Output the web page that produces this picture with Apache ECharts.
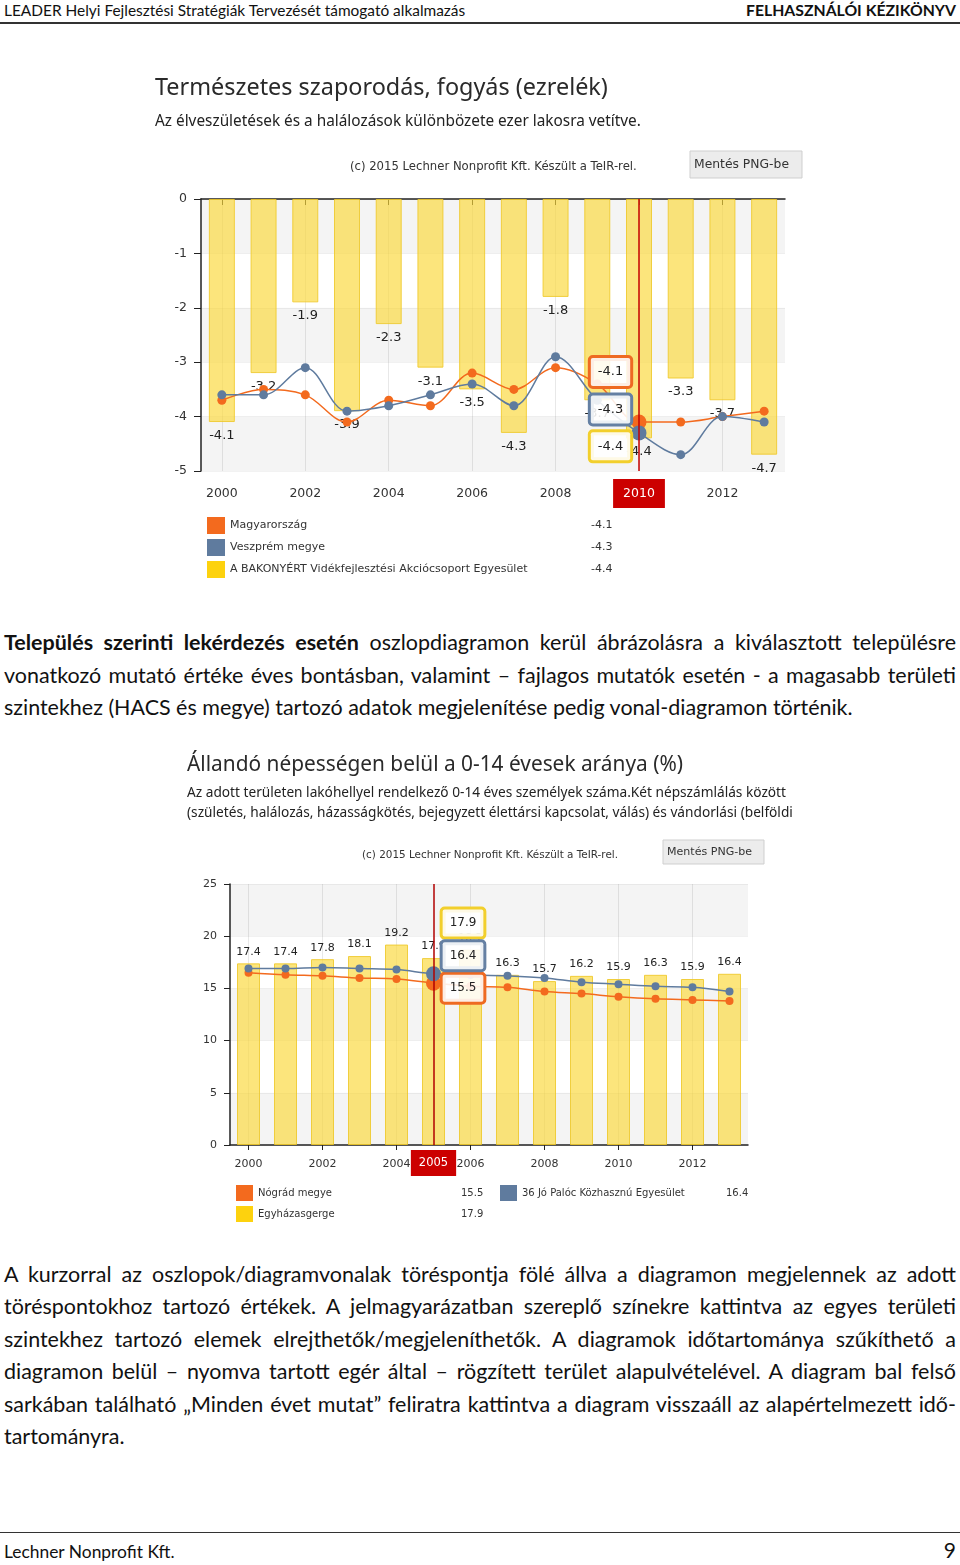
<!DOCTYPE html>
<html><head><meta charset="utf-8">
<script src="https://cdn.jsdelivr.net/npm/echarts@6/dist/echarts.min.js"></script>
<style>
html,body{margin:0;padding:0;background:#fff;}
body{width:960px;height:1565px;position:relative;overflow:hidden;font-family:Lato,"Open Sans",sans-serif;color:#111;}
.t{position:absolute;white-space:nowrap;line-height:30px;height:30px;}
.j{left:4px;width:952px;text-align:justify;text-align-last:justify;}
.l{left:4px;}
</style></head><body>
<div class="t fit" id="hdrL" data-w="462" style="left:4px;top:-5px;">LEADER Helyi Fejlesztési Stratégiák Tervezését támogató alkalmazás</div>
<div class="t fit" id="hdrR" data-w="210" style="right:4px;top:-5px;font-weight:bold;">FELHASZNÁLÓI KÉZIKÖNYV</div>
<div style="position:absolute;left:0;top:22px;width:960px;height:2px;background:#333"></div>

<div id="c1" style="position:absolute;left:140px;top:60px;width:680px;height:540px"></div>

<div class="t j body" style="top:627px;"><b>Település szerinti lekérdezés esetén</b> oszlopdiagramon kerül ábrázolásra a kiválasztott településre</div>
<div class="t j body" style="top:660px;">vonatkozó mutató értéke éves bontásban, valamint – fajlagos mutatók esetén - a magasabb területi</div>
<div class="t l body" id="ref1" style="top:692px;">szintekhez (HACS és megye) tartozó adatok megjelenítése pedig vonal-diagramon történik.</div>

<div id="c2" style="position:absolute;left:175px;top:740px;width:620px;height:500px"></div>

<div class="t j body" style="top:1259px;">A kurzorral az oszlopok/diagramvonalak töréspontja fölé állva a diagramon megjelennek az adott</div>
<div class="t j body" style="top:1291px;">töréspontokhoz tartozó értékek. A jelmagyarázatban szereplő színekre kattintva az egyes területi</div>
<div class="t j body" style="top:1324px;">szintekhez tartozó elemek elrejthetők/megjeleníthetők. A diagramok időtartománya szűkíthető a</div>
<div class="t j body" style="top:1356px;">diagramon belül – nyomva tartott egér által – rögzített terület alapulvételével. A diagram bal felső</div>
<div class="t j body" style="top:1389px;">sarkában található „Minden évet mutat” feliratra kattintva a diagram visszaáll az alapértelmezett idő-</div>
<div class="t l body" style="top:1421px;">tartományra.</div>

<div style="position:absolute;left:0;top:1532px;width:960px;height:1px;background:#333"></div>
<div class="t fit" data-w="171" style="left:4px;top:1537px;">Lechner Nonprofit Kft.</div>
<div class="t" style="right:4px;top:1535px;font-size:21px;">9</div>

<script>
// ---------- data ----------
const years = ['2000','2001','2002','2003','2004','2005','2006','2007','2008','2009','2010','2011','2012','2013'];

// Chart 1: Természetes szaporodás, fogyás (ezrelék)
const c1Names = ['Magyarország','Veszprém megye','A BAKONYÉRT Vidékfejlesztési Akciócsoport Egyesület'];
const c1Hungary  = [-3.7,-3.5,-3.6,-4.1,-3.7,-3.8,-3.2,-3.5,-3.1,-3.4,-4.1,-4.1,-4.0,-3.9];
const c1Veszprem = [-3.6,-3.6,-3.1,-3.9,-3.8,-3.6,-3.4,-3.8,-2.9,-3.7,-4.3,-4.7,-4.0,-4.1];
const c1Bakony   = [-4.1,-3.2,-1.9,-3.9,-2.3,-3.1,-3.5,-4.3,-1.8,-3.7,-4.4,-3.3,-3.7,-4.7];
const c1Year = '2010';

// Chart 2: Állandó népességen belül a 0-14 évesek aránya (%)
const c2Names = ['Nógrád megye','36 Jó Palóc Közhasznú Egyesület','Egyházasgerge'];
const c2Nograd = [16.5,16.3,16.2,16.0,15.9,15.5,15.2,15.1,14.7,14.5,14.2,14.0,13.9,13.8];
const c2Paloc  = [16.9,16.9,17.0,16.9,16.8,16.4,16.3,16.2,16.0,15.6,15.4,15.2,15.1,14.7];
const c2Egyhaz = [17.4,17.4,17.8,18.1,19.2,17.9,18.7,16.3,15.7,16.2,15.9,16.3,15.9,16.4];
const c2Year = '2005';

// ---------- helpers ----------
const mctx = document.createElement('canvas').getContext('2d');
function fitSize(text, family, target, weight){
  mctx.font = (weight||'normal') + ' 100px ' + family;
  return 100 * target / mctx.measureText(text).width;
}
// HTML text sizing
const bodyFam = 'Lato';
const ref1 = document.getElementById('ref1');
const bodySize = fitSize(ref1.textContent, bodyFam, 849);
document.querySelectorAll('.body').forEach(e => e.style.fontSize = bodySize.toFixed(2) + 'px');
document.querySelectorAll('.fit').forEach(e => {
  const w = +e.dataset.w;
  const bold = getComputedStyle(e).fontWeight >= 600 ? 'bold' : 'normal';
  e.style.fontSize = fitSize(e.textContent, bodyFam, w, bold).toFixed(2) + 'px';
});

const ORANGE = '#f36a1e', BLUE = '#5f7b9e', YELLOW = '#fdd20e';
const BARFILL = 'rgba(250,216,62,0.68)', BARLINE = 'rgba(238,200,40,0.85)';
const AXIS = '#222', LBL = '#333';
const TFONT = '"Noto Sans"';
const SFONT = '"DejaVu Sans"';

function pts(vals, hi, size, bigSize){
  return vals.map((v, i) => i === hi ? {value: v, symbolSize: bigSize} : v);
}
function tipPoint(cat, val, color, offset, fs){
  return {
    symbol: 'circle', symbolSize: 1, silent: true,
    itemStyle: {color: 'rgba(0,0,0,0)'},
    label: {show: true, position: 'inside', offset: offset, formatter: String(val),
      color: '#222', fontSize: fs, fontFamily: SFONT,
      backgroundColor: 'rgba(255,255,255,0.88)', borderColor: color, borderWidth: 3,
      borderRadius: 2, padding: [8, 7, 7, 7]},
    data: [{coord: [cat, val]}]
  };
}
function legendFmt(names, vals){
  const m = {};
  names.forEach((n, i) => m[n] = vals[i]);
  return n => '{n|' + n + '}{v|' + m[n] + '}';
}

// ---------- chart 1 ----------
const hi1 = years.indexOf(c1Year);
const c1 = echarts.init(document.getElementById('c1'), null, {renderer: 'canvas'});
const g1 = {left: 61, top: 139, width: 584, height: 272};
c1.setOption({
  animation: false,
  textStyle: {fontFamily: SFONT},
  grid: g1,
  axisPointer: {triggerOn: 'none'},
  xAxis: [{
    type: 'category', data: years, boundaryGap: true, gridIndex: 0,
    axisLine: {lineStyle: {color: AXIS, width: 1.5}},
    axisTick: {show: true, interval: 1, alignWithLabel: true, length: 6, lineStyle: {color: AXIS}},
    axisLabel: {interval: 1, color: LBL, fontSize: 12.5, margin: 16, fontFamily: SFONT},
    splitLine: {show: false},
    axisPointer: {show: true, type: 'line', value: hi1, status: 'show', snap: true,
      lineStyle: {color: '#c40000', width: 1.5, type: 'solid'},
      label: {show: true, backgroundColor: '#cc0000', color: '#fff', fontSize: 12.5, fontFamily: SFONT,
        padding: [8, 10, 8, 10], margin: 8, borderRadius: 0, shadowBlur: 0, borderWidth: 0}}
  }, {
    type: 'category', data: years, boundaryGap: true, gridIndex: 0, position: 'bottom',
    axisLine: {show: false}, axisLabel: {show: false}, splitLine: {show: false},
    axisTick: {show: true, inside: true, interval: 1, alignWithLabel: true, length: g1.height,
      lineStyle: {color: 'rgba(0,0,0,0.09)'}}
  }],
  yAxis: {
    type: 'value', min: -5, max: 0, interval: 1,
    axisLine: {show: true, lineStyle: {color: AXIS, width: 1.5}},
    axisTick: {show: true, length: 7, lineStyle: {color: AXIS}},
    axisLabel: {color: LBL, fontSize: 12.5, margin: 14, fontFamily: SFONT},
    splitLine: {show: true, lineStyle: {color: 'rgba(0,0,0,0.05)'}},
    splitArea: {show: true, areaStyle: {color: ['rgba(0,0,0,0.045)', 'rgba(0,0,0,0)']}}
  },
  legend: {
    orient: 'vertical', left: 67, top: 517 - 60, padding: 0, itemWidth: 18, itemHeight: 17, itemGap: 5,
    icon: 'rect', selectedMode: false,
    itemStyle: {borderWidth: 0},
    data: [
      {name: c1Names[0], itemStyle: {color: ORANGE}},
      {name: c1Names[1], itemStyle: {color: BLUE}},
      {name: c1Names[2], itemStyle: {color: YELLOW}}
    ],
    formatter: legendFmt(c1Names, [c1Hungary[hi1], c1Veszprem[hi1], c1Bakony[hi1]]),
    textStyle: {color: LBL, fontSize: 11, fontFamily: SFONT,
      rich: {n: {width: 361, fontSize: 11, fontFamily: SFONT, color: LBL}, v: {fontSize: 11, fontFamily: SFONT, color: LBL}}}
  },
  series: [
    {name: c1Names[2], type: 'bar', data: c1Bakony, barWidth: 26, z: 2,
      itemStyle: {color: BARFILL, borderColor: BARLINE, borderWidth: 1},
      label: {show: true, position: 'bottom', distance: 7, color: '#222', fontSize: 13, fontFamily: SFONT},
      markPoint: tipPoint(years[hi1], c1Bakony[hi1], '#f2cf2c', [-28.5, 8], 13)},
    {name: c1Names[0], type: 'line', data: pts(c1Hungary, hi1, 9, 15), smooth: 0.35, z: 3,
      symbol: 'circle', symbolSize: 9, showSymbol: true,
      lineStyle: {color: ORANGE, width: 1.5}, itemStyle: {color: ORANGE},
      markPoint: tipPoint(years[hi1], c1Hungary[hi1], '#ee6a22', [-28.5, -50], 13)},
    {name: c1Names[1], type: 'line', data: pts(c1Veszprem, hi1, 9, 15), smooth: 0.35, z: 4,
      symbol: 'circle', symbolSize: 9, showSymbol: true,
      lineStyle: {color: BLUE, width: 1.5}, itemStyle: {color: BLUE},
      markPoint: tipPoint(years[hi1], c1Veszprem[hi1], '#6580a3', [-28.5, -23.5], 13)}
  ],
  graphic: [
    {type: 'text', x: 15, y: 28, style: {text: 'Természetes szaporodás, fogyás (ezrelék)', fill: '#2a2a2a',
      font: fitSize('Természetes szaporodás, fogyás (ezrelék)', TFONT, 453).toFixed(2) + 'px ' + TFONT, verticalAlign: 'middle'}},
    {type: 'text', x: 15, y: 62, style: {text: 'Az élveszületések és a halálozások különbözete ezer lakosra vetítve.', fill: '#222',
      font: fitSize('Az élveszületések és a halálozások különbözete ezer lakosra vetítve.', TFONT, 486).toFixed(2) + 'px ' + TFONT, verticalAlign: 'middle'}},
    {type: 'text', x: 210, y: 107, style: {text: '(c) 2015 Lechner Nonprofit Kft. Készült a TeIR-rel.', fill: '#333',
      font: fitSize('(c) 2015 Lechner Nonprofit Kft. Készült a TeIR-rel.', SFONT, 287).toFixed(2) + 'px ' + SFONT, verticalAlign: 'middle'}},
    {type: 'rect', shape: {x: 550, y: 91, width: 112, height: 27}, style: {fill: '#ececec', stroke: '#cfcfcf', lineWidth: 1}},
    {type: 'text', x: 601.5, y: 104.5, style: {text: 'Mentés PNG-be', fill: '#333', align: 'center', verticalAlign: 'middle',
      font: fitSize('Mentés PNG-be', SFONT, 95).toFixed(2) + 'px ' + SFONT}}
  ]
});

// ---------- chart 2 ----------
const hi2 = years.indexOf(c2Year);
const c2 = echarts.init(document.getElementById('c2'), null, {renderer: 'canvas'});
const g2 = {left: 55, top: 144, width: 518, height: 261};
const sub2a = 'Az adott területen lakóhellyel rendelkező 0-14 éves személyek száma.Két népszámlálás között';
const sub2b = '(születés, halálozás, házasságkötés, bejegyzett élettársi kapcsolat, válás) és vándorlási (belföldi';
const sub2Size = fitSize(sub2b, TFONT, 606);
c2.setOption({
  animation: false,
  textStyle: {fontFamily: SFONT},
  grid: g2,
  axisPointer: {triggerOn: 'none'},
  xAxis: [{
    type: 'category', data: years, boundaryGap: true,
    axisLine: {lineStyle: {color: AXIS, width: 1.5}},
    axisTick: {show: true, interval: 1, alignWithLabel: true, length: 5, lineStyle: {color: AXIS}},
    axisLabel: {interval: 1, color: LBL, fontSize: 11, margin: 14, fontFamily: SFONT},
    splitLine: {show: false},
    axisPointer: {show: true, type: 'line', value: hi2, status: 'show', snap: true,
      lineStyle: {color: '#b00000', width: 1.5, type: 'solid'},
      label: {show: true, backgroundColor: '#cc0000', color: '#fff', fontSize: 11.5, fontFamily: SFONT,
        padding: [7, 8, 7, 8], margin: 5, borderRadius: 0, shadowBlur: 0, borderWidth: 0}}
  }, {
    type: 'category', data: years, boundaryGap: true, position: 'bottom',
    axisLine: {show: false}, axisLabel: {show: false}, splitLine: {show: false},
    axisTick: {show: true, inside: true, interval: 1, alignWithLabel: true, length: g2.height,
      lineStyle: {color: 'rgba(0,0,0,0.09)'}}
  }],
  yAxis: {
    type: 'value', min: 0, max: 25, interval: 5,
    axisLine: {show: true, lineStyle: {color: AXIS, width: 1.5}},
    axisTick: {show: true, length: 6, lineStyle: {color: AXIS}},
    axisLabel: {color: LBL, fontSize: 11, margin: 13, fontFamily: SFONT},
    splitLine: {show: true, lineStyle: {color: 'rgba(0,0,0,0.05)'}},
    splitArea: {show: true, areaStyle: {color: ['rgba(0,0,0,0.045)', 'rgba(0,0,0,0)']}}
  },
  legend: [{
    orient: 'vertical', left: 61, top: 445, padding: 0, itemWidth: 17, itemHeight: 16, itemGap: 5,
    icon: 'rect', selectedMode: false, itemStyle: {borderWidth: 0},
    data: [{name: c2Names[0], itemStyle: {color: ORANGE}}, {name: c2Names[2], itemStyle: {color: YELLOW}}],
    formatter: legendFmt(c2Names, [c2Nograd[hi2], c2Paloc[hi2], c2Egyhaz[hi2]]),
    textStyle: {color: LBL, fontSize: 10, fontFamily: SFONT,
      rich: {n: {width: 203, fontSize: 10, fontFamily: SFONT, color: LBL}, v: {fontSize: 10, fontFamily: SFONT, color: LBL}}}
  }, {
    orient: 'vertical', left: 325, top: 445, padding: 0, itemWidth: 17, itemHeight: 16, itemGap: 5,
    icon: 'rect', selectedMode: false, itemStyle: {borderWidth: 0},
    data: [{name: c2Names[1], itemStyle: {color: BLUE}}],
    formatter: legendFmt(c2Names, [c2Nograd[hi2], c2Paloc[hi2], c2Egyhaz[hi2]]),
    textStyle: {color: LBL, fontSize: 10, fontFamily: SFONT,
      rich: {n: {width: 204, fontSize: 10, fontFamily: SFONT, color: LBL}, v: {fontSize: 10, fontFamily: SFONT, color: LBL}}}
  }],
  series: [
    {name: c2Names[2], type: 'bar', data: c2Egyhaz, barWidth: 23, z: 2,
      itemStyle: {color: BARFILL, borderColor: BARLINE, borderWidth: 1},
      label: {show: true, position: 'top', distance: 6, color: '#222', fontSize: 11, fontFamily: SFONT},
      markPoint: tipPoint(years[hi2], c2Egyhaz[hi2], '#f2cf2c', [29.5, -35], 12)},
    {name: c2Names[0], type: 'line', data: pts(c2Nograd, hi2, 8, 15), smooth: 0.35, z: 3,
      symbol: 'circle', symbolSize: 8, showSymbol: true,
      lineStyle: {color: ORANGE, width: 1.5}, itemStyle: {color: ORANGE},
      markPoint: tipPoint(years[hi2], c2Nograd[hi2], '#ee6a22', [29.5, 5], 12)},
    {name: c2Names[1], type: 'line', data: pts(c2Paloc, hi2, 8, 15), smooth: 0.35, z: 4,
      symbol: 'circle', symbolSize: 8, showSymbol: true,
      lineStyle: {color: BLUE, width: 1.5}, itemStyle: {color: BLUE},
      markPoint: tipPoint(years[hi2], c2Paloc[hi2], '#6580a3', [29.5, -18], 12)}
  ],
  graphic: [
    {type: 'text', x: 12, y: 25, style: {text: 'Állandó népességen belül a 0-14 évesek aránya (%)', fill: '#2a2a2a',
      font: fitSize('Állandó népességen belül a 0-14 évesek aránya (%)', TFONT, 496).toFixed(2) + 'px ' + TFONT, verticalAlign: 'middle'}},
    {type: 'text', x: 12, y: 53, style: {text: sub2a, fill: '#222', font: sub2Size.toFixed(2) + 'px ' + TFONT, verticalAlign: 'middle'}},
    {type: 'text', x: 12, y: 73, style: {text: sub2b, fill: '#222', font: sub2Size.toFixed(2) + 'px ' + TFONT, verticalAlign: 'middle'}},
    {type: 'text', x: 187, y: 115, style: {text: '(c) 2015 Lechner Nonprofit Kft. Készült a TeIR-rel.', fill: '#333',
      font: fitSize('(c) 2015 Lechner Nonprofit Kft. Készült a TeIR-rel.', SFONT, 256).toFixed(2) + 'px ' + SFONT, verticalAlign: 'middle'}},
    {type: 'rect', shape: {x: 488, y: 100, width: 101, height: 24}, style: {fill: '#ececec', stroke: '#cfcfcf', lineWidth: 1}},
    {type: 'text', x: 534.5, y: 112, style: {text: 'Mentés PNG-be', fill: '#333', align: 'center', verticalAlign: 'middle',
      font: fitSize('Mentés PNG-be', SFONT, 85).toFixed(2) + 'px ' + SFONT}}
  ]
});
</script>
</body></html>
